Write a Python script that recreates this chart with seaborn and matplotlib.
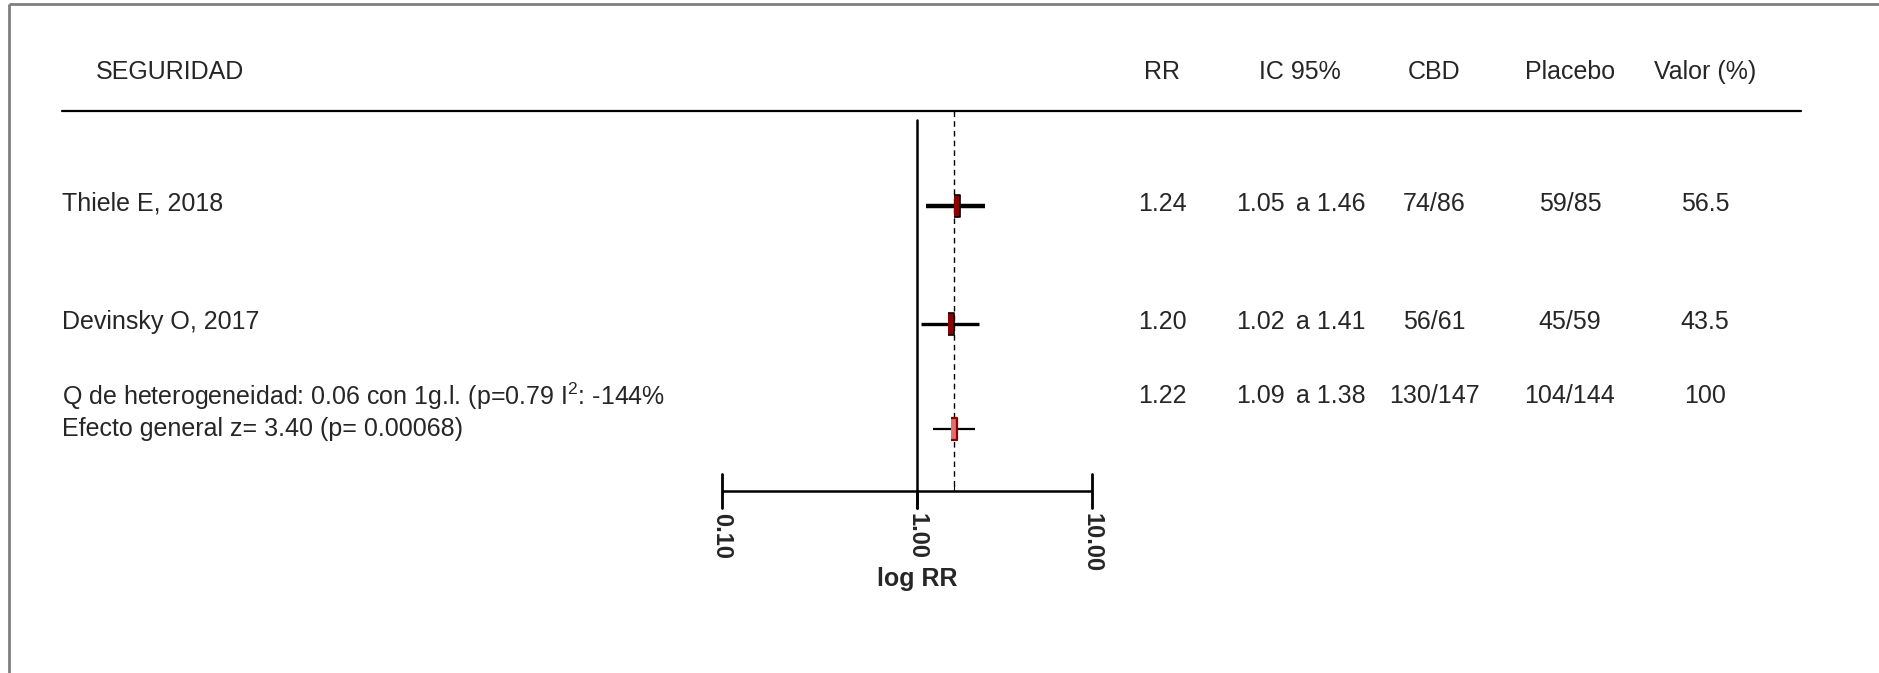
import numpy as np
import pandas as pd
import matplotlib
matplotlib.use("Agg")
import matplotlib.pyplot as plt
import seaborn as sns

# data
studies = ["Thiele E, 2018", "Devinsky O, 2017"]
rr = [1.24, 1.20]
ci_low = [1.05, 1.02]
ci_high = [1.46, 1.41]
cbd = ["74/86", "56/61"]
placebo = ["59/85", "45/59"]
weight = [56.5, 43.5]

rr_total = 1.22
ci_low_total = 1.09
ci_high_total = 1.38
cbd_total = "130/147"
placebo_total = "104/144"
weight_total = 100

het_text = "Q de heterogeneidad: 0.06 con 1g.l. (p=0.79 I$^{2}$: -144%"
effect_text = "Efecto general z= 3.40 (p= 0.00068)"
headers = ["RR", "IC 95%", "CBD", "Placebo", "Valor (%)"]
x_ticks = [0.1, 1, 10]

# layout (pixels of the 1879x673 canvas)
W, H = 1879, 673
row_y = [206, 324]
total_y = 429
het_y = 396
header_y = 72
col_x = {"rr": 1162, "ic": 1300, "lo": 1260, "hi": 1331, "cbd": 1434,
         "pla": 1570, "val": 1705}
axis_y = 491

sns.set_theme(style="white")
plt.rcParams["font.family"] = ["Liberation Sans", "DejaVu Sans"]
plt.rcParams["mathtext.fontset"] = "custom"
plt.rcParams["mathtext.rm"] = "Liberation Sans"
fs = 18

fig = plt.figure(figsize=(W / 100, H / 100), dpi=100)
bg = fig.add_axes([0, 0, 1, 1])
bg.set_xlim(0, W)
bg.set_ylim(H, 0)
bg.axis("off")

# frame of the screenshot
bg.plot([9, 9], [4, H], color="#7f7f7f", lw=2, solid_capstyle="butt")
bg.plot([9, W], [4, 4], color="#7f7f7f", lw=2, solid_capstyle="butt")

# header
bg.text(96, header_y, "SEGURIDAD", fontsize=fs, va="center")
for key, lab in zip(["rr", "ic", "cbd", "pla", "val"], headers):
    bg.text(col_x[key], header_y, lab, fontsize=fs, ha="center", va="center")
bg.plot([62, 1801], [111, 111], color="black", lw=1.6)

# table rows
rows = pd.DataFrame({"study": studies, "rr": rr, "lo": ci_low, "hi": ci_high,
                     "cbd": cbd, "pla": placebo, "w": weight, "y": row_y})
for _, r in rows.iterrows():
    ty = r["y"] - 2
    bg.text(62, ty, r["study"], fontsize=fs, va="center")
    bg.text(col_x["rr"], ty, f"{r['rr']:.2f}", fontsize=fs, ha="center", va="center")
    bg.text(col_x["lo"], ty, f"{r['lo']:.2f}", fontsize=fs, ha="center", va="center")
    bg.text(col_x["hi"], ty, f"a {r['hi']:.2f}", fontsize=fs, ha="center", va="center")
    bg.text(col_x["cbd"], ty, r["cbd"], fontsize=fs, ha="center", va="center")
    bg.text(col_x["pla"], ty, r["pla"], fontsize=fs, ha="center", va="center")
    bg.text(col_x["val"], ty, f"{r['w']:.1f}", fontsize=fs, ha="center", va="center")

bg.text(62, het_y, het_text, fontsize=fs, va="center")
bg.text(62, total_y, effect_text, fontsize=fs, va="center")
bg.text(col_x["rr"], het_y, f"{rr_total:.2f}", fontsize=fs, ha="center", va="center")
bg.text(col_x["lo"], het_y, f"{ci_low_total:.2f}", fontsize=fs, ha="center", va="center")
bg.text(col_x["hi"], het_y, f"a {ci_high_total:.2f}", fontsize=fs, ha="center", va="center")
bg.text(col_x["cbd"], het_y, cbd_total, fontsize=fs, ha="center", va="center")
bg.text(col_x["pla"], het_y, placebo_total, fontsize=fs, ha="center", va="center")
bg.text(col_x["val"], het_y, f"{weight_total}", fontsize=fs, ha="center", va="center")


# forest panel: log-like scale squeezed towards the ends, as in the original
def fwd(x):
    u = np.log10(np.clip(np.asarray(x, dtype=float), 1e-6, None))
    return np.where(u < 0, 204 * np.tanh(u / 0.48), 180 * np.tanh(u / 0.41))


def inv(y):
    y = np.asarray(y, dtype=float)
    u = np.where(y < 0, 0.48 * np.arctanh(np.clip(y / 204, -0.999999, 0.999999)),
                 0.41 * np.arctanh(np.clip(y / 180, -0.999999, 0.999999)))
    return 10 ** u


x0, x1 = 722, 1092
fp = fig.add_axes([x0 / W, 0, (x1 - x0) / W, 1])
fp.set_xscale("function", functions=(fwd, inv))

# reference lines
fp.plot([1, 1], [120, axis_y + 17], color="black", lw=1.8, clip_on=False)
fp.plot([rr_total, rr_total], [111, axis_y], color="black", lw=1,
        ls=(0, (4, 3)), clip_on=False)

# bottom scale
fp.plot([x_ticks[0], x_ticks[-1]], [axis_y, axis_y], color="black", lw=1.8,
        clip_on=False, solid_capstyle="butt")
for t in x_ticks:
    top = axis_y - 17 if t != 1 else axis_y
    fp.plot([t, t], [top, axis_y + 17], color="black", lw=2, clip_on=False)
    fp.text(t, axis_y + 22, f"{t:.2f}", rotation=270, fontsize=17,
            fontweight="bold", ha="center", va="top")
fp.plot([rr_total, rr_total], [axis_y - 6, axis_y], color="black", lw=0.8)
fp.text(1, 579, "log RR", fontsize=fs, fontweight="bold", ha="center", va="center")

# confidence intervals and point estimates
ci_lw = [3.2, 2.4]
for i in range(len(studies)):
    fp.plot([ci_low[i], ci_high[i]], [row_y[i], row_y[i]], color="black",
            lw=ci_lw[i], solid_capstyle="butt")
fp.plot([ci_low_total, ci_high_total], [total_y, total_y], color="black",
        lw=1.6, solid_capstyle="butt")

box = [(-1, -4), (1, -4), (1, 4), (-1, 4)]
pts = pd.DataFrame({"rr": rr + [rr_total], "y": row_y + [total_y]})
sns.scatterplot(data=pts.iloc[:2], x="rr", y="y", marker=box, s=270,
                color="#8b0000", edgecolor="black", linewidth=1.2, ax=fp,
                legend=False, zorder=5)
sns.scatterplot(data=pts.iloc[2:], x="rr", y="y", marker=box, s=240,
                color="#e07070", edgecolor="#8b0000", linewidth=1.6, ax=fp,
                legend=False, zorder=5)
fp.set_xlim(x_ticks[0], x_ticks[-1])
fp.set_ylim(H, 0)
fp.axis("off")

fig.savefig("out.png", dpi=100)
